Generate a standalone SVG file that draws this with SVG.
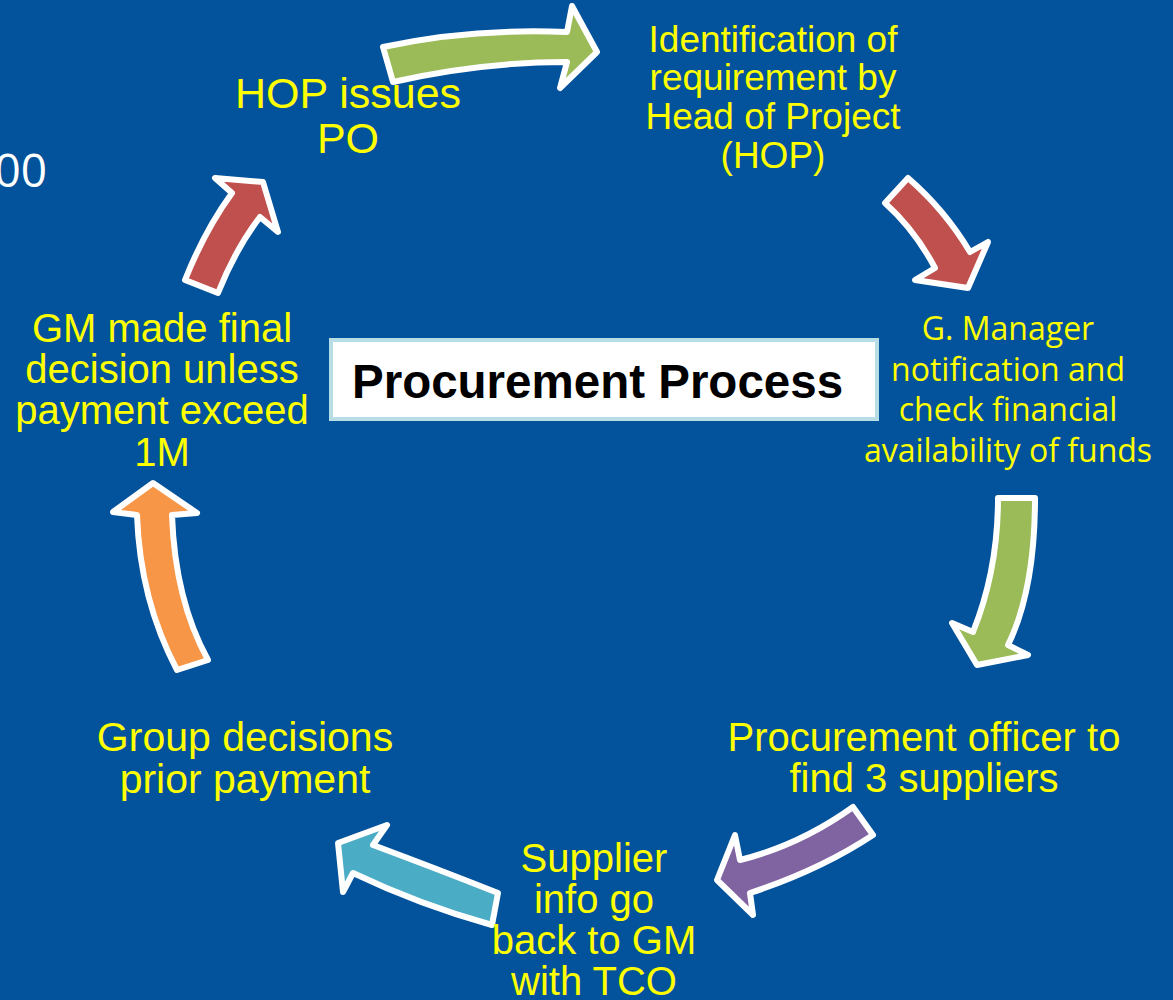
<svg xmlns="http://www.w3.org/2000/svg" width="1173" height="1000" viewBox="0 0 1173 1000">
<style>
.ar{stroke:#fff;stroke-width:6;stroke-linejoin:round}
.t{font-family:"Liberation Sans",Arial,sans-serif;fill:#FFFF00;text-anchor:middle}
.c{font-family:"Open Sans","Liberation Sans",sans-serif;fill:#FFFF00;text-anchor:middle}
</style>
<rect width="1173" height="1000" fill="#02529C"/>
<text x="47" y="187" font-family="'Open Sans','Liberation Sans',sans-serif" font-size="46" fill="#fff" text-anchor="end">00</text>
<g id="connectors">
<path class="ar" fill="#9BBB59" d="M383,47 Q470,28 567,32 L572,6 L597,52 L560,88 L567,62 Q480,62 393,82 Z"/>
<path class="ar" fill="#C0504D" d="M908,178 Q945,210 970,252 L988,242 L968,288 L915,280 L935,268 Q915,230 885,203 Z"/>
<path class="ar" fill="#9BBB59" d="M998,498 L1035,498 Q1035,590 1008,645 L1028,655 L977,665 L952,623 L973,632 Q998,570 998,498 Z"/>
<path class="ar" fill="#8064A2" d="M853,807 L873,835 Q820,870 750,893 L753,915 L717,880 L735,835 L740,860 Q800,845 853,807 Z"/>
<path class="ar" fill="#4BACC6" d="M498,893 Q440,870 373,845 L387,825 L338,843 L343,892 L353,873 Q420,905 492,925 Z"/>
<path class="ar" fill="#F79646" d="M153,483 L197,513 L172,515 Q175,600 208,660 L177,670 Q140,600 137,515 L113,512 Z"/>
<path class="ar" fill="#C0504D" d="M215,178 L263,182 L278,232 L260,217 Q235,250 218,293 L185,280 Q205,230 232,193 Z"/>
</g>
<g id="center">
<rect x="331" y="340" width="546" height="79" fill="#fff" stroke="#B7DDE5" stroke-width="4"/>
<text x="352" y="398" font-family="'Liberation Sans',Arial,sans-serif" font-size="47.5" font-weight="bold" fill="#000">Procurement Process</text>
</g>
<g id="n1">
<text class="t" x="773" y="52" font-size="37">Identification of</text>
<text class="t" x="773" y="90" font-size="37">requirement by</text>
<text class="t" x="773" y="129" font-size="37">Head of Project</text>
<text class="t" x="773" y="168" font-size="37">(HOP)</text>
</g>
<g id="n2">
<text class="c" x="1008" y="340" font-size="32">G. Manager</text>
<text class="c" x="1008" y="381" font-size="32">notification and</text>
<text class="c" x="1008" y="421" font-size="32">check financial</text>
<text class="c" x="1008" y="462" font-size="32">availability of funds</text>
</g>
<g id="n3">
<text class="t" x="924" y="751" font-size="40">Procurement officer to</text>
<text class="t" x="924" y="792" font-size="40">find 3 suppliers</text>
</g>
<g id="n4">
<text class="t" x="594" y="872" font-size="40">Supplier</text>
<text class="t" x="594" y="913" font-size="40">info go</text>
<text class="t" x="594" y="954" font-size="40">back to GM</text>
<text class="t" x="594" y="995" font-size="40">with TCO</text>
</g>
<g id="n5">
<text class="t" x="245" y="751" font-size="41">Group decisions</text>
<text class="t" x="245" y="793" font-size="41">prior payment</text>
</g>
<g id="n6">
<text class="t" x="162" y="342" font-size="40">GM made final</text>
<text class="t" x="162" y="383" font-size="40">decision unless</text>
<text class="t" x="162" y="424" font-size="40">payment exceed</text>
<text class="t" x="162" y="466" font-size="40">1M</text>
</g>
<g id="n7">
<text class="t" x="348" y="108" font-size="43">HOP issues</text>
<text class="t" x="348" y="153" font-size="43">PO</text>
</g>
</svg>
